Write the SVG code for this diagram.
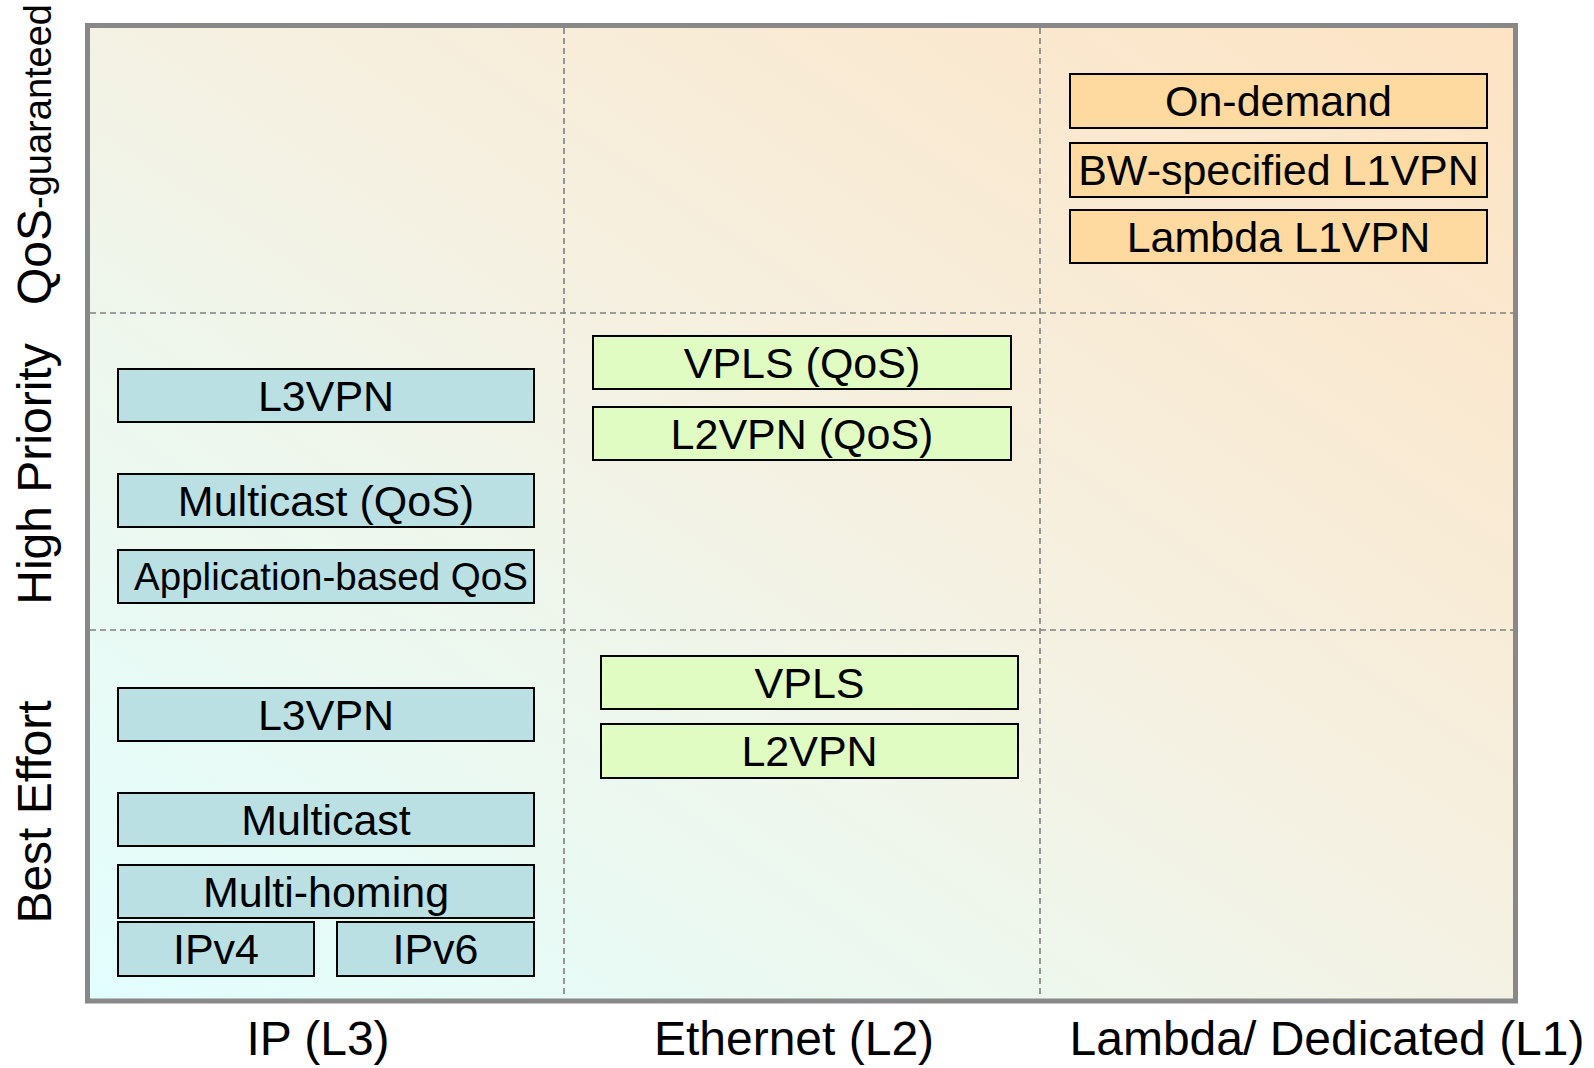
<svg xmlns="http://www.w3.org/2000/svg" width="1594" height="1068" viewBox="0 0 1594 1068">
<defs>
<linearGradient id="bg" x1="0" y1="1" x2="1" y2="0">
<stop offset="0" stop-color="#e2fefe"/>
<stop offset="0.3" stop-color="#ecf8ef"/>
<stop offset="0.55" stop-color="#f5f0e0"/>
<stop offset="1" stop-color="#fde3c3"/>
</linearGradient>
<style>
text{font-family:"Liberation Sans",Arial,sans-serif;fill:#000}
.box{stroke:#000;stroke-width:2}
.ip{fill:#bbe0e3}
.eth{fill:#e0fcc2}
.lam{fill:#fed9a0}
.bt{font-size:43px;text-anchor:middle}
.ax{font-size:48px;text-anchor:middle}
.grid{stroke:#808080;stroke-width:1.6;stroke-dasharray:6 4;fill:none}
</style>
</defs>
<rect x="87.5" y="25.5" width="1428" height="975.5" fill="url(#bg)" stroke="#888" stroke-width="5"/>
<g id="grid">
<line class="grid" x1="90" y1="313" x2="1513" y2="313"/>
<line class="grid" x1="90" y1="630" x2="1513" y2="630"/>
<line class="grid" x1="564" y1="28" x2="564" y2="998"/>
<line class="grid" x1="1040" y1="28" x2="1040" y2="998"/>
</g>
<g id="axis-labels">
<text class="ax" x="318" y="1055">IP (L3)</text>
<text class="ax" x="794" y="1055">Ethernet (L2)</text>
<text class="ax" x="1327" y="1055">Lambda/ Dedicated (L1)</text>
<text transform="translate(51,305) rotate(-90)" style="font-size:48px"><tspan>QoS</tspan><tspan style="font-size:38px">-guaranteed</tspan></text>
<text class="ax" transform="translate(51,474) rotate(-90)">High Priority</text>
<text class="ax" transform="translate(51,812) rotate(-90)">Best Effort</text>
</g>
<g id="on-demand"><rect class="box lam" x="1070" y="74" width="417" height="54"/><text class="bt" x="1278.5" y="116">On-demand</text></g>
<g id="bw-l1vpn"><rect class="box lam" x="1070" y="143" width="417" height="54"/><text class="bt" x="1278.5" y="185">BW-specified L1VPN</text></g>
<g id="lambda-l1vpn"><rect class="box lam" x="1070" y="210" width="417" height="53"/><text class="bt" x="1278.5" y="251.5">Lambda L1VPN</text></g>
<g id="vpls-qos"><rect class="box eth" x="593" y="336" width="418" height="53"/><text class="bt" x="802" y="377.5">VPLS (QoS)</text></g>
<g id="l2vpn-qos"><rect class="box eth" x="593" y="407" width="418" height="53"/><text class="bt" x="802" y="448.5">L2VPN (QoS)</text></g>
<g id="vpls"><rect class="box eth" x="601" y="656" width="417" height="53"/><text class="bt" x="809.5" y="697.5">VPLS</text></g>
<g id="l2vpn"><rect class="box eth" x="601" y="724" width="417" height="54"/><text class="bt" x="809.5" y="766">L2VPN</text></g>
<g id="l3vpn-hp"><rect class="box ip" x="118" y="369" width="416" height="53"/><text class="bt" x="326" y="410.5">L3VPN</text></g>
<g id="multicast-qos"><rect class="box ip" x="118" y="474" width="416" height="53"/><text class="bt" x="326" y="515.5">Multicast (QoS)</text></g>
<g id="app-qos"><rect class="box ip" x="118" y="550" width="416" height="53"/><text x="331" y="590" style="font-size:38.5px;text-anchor:middle">Application-based QoS</text></g>
<g id="l3vpn-be"><rect class="box ip" x="118" y="688" width="416" height="53"/><text class="bt" x="326" y="729.5">L3VPN</text></g>
<g id="multicast"><rect class="box ip" x="118" y="793" width="416" height="53"/><text class="bt" x="326" y="834.5">Multicast</text></g>
<g id="multihoming"><rect class="box ip" x="118" y="865" width="416" height="53"/><text class="bt" x="326" y="906.5">Multi-homing</text></g>
<g id="ipv4"><rect class="box ip" x="118" y="922" width="196" height="54"/><text class="bt" x="216" y="964">IPv4</text></g>
<g id="ipv6"><rect class="box ip" x="337" y="922" width="197" height="54"/><text class="bt" x="435.5" y="964">IPv6</text></g>
</svg>
